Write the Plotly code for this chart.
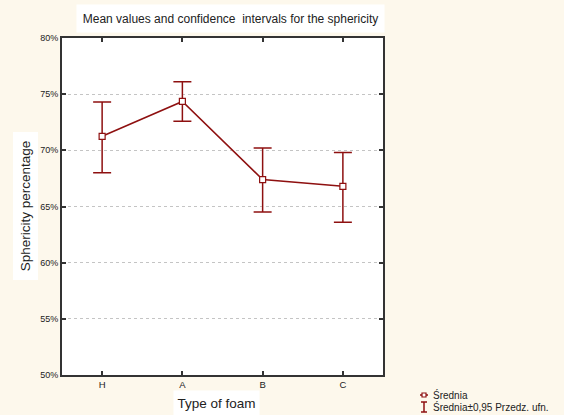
import plotly.graph_objects as go

# Foam types and sphericity statistics (percent)
foam_types = ["H", "A", "B", "C"]
mean_vals = [71.25, 74.35, 67.4, 66.8]
ci_lower = [68.0, 72.6, 64.5, 63.6]
ci_upper = [74.3, 76.1, 70.2, 69.8]
y_ticks = [50, 55, 60, 65, 70, 75, 80]

RED = "#8e1010"
FONT = "Liberation Sans, Arial, sans-serif"

err_plus = [u - m for u, m in zip(ci_upper, mean_vals)]
err_minus = [m - l for m, l in zip(mean_vals, ci_lower)]

fig = go.Figure()
fig.add_trace(go.Scatter(
    x=foam_types, y=mean_vals, mode="lines+markers",
    line=dict(color=RED, width=1.5),
    marker=dict(symbol="square", size=6, color="white", line=dict(color=RED, width=1.2)),
    error_y=dict(type="data", symmetric=False, array=err_plus, arrayminus=err_minus,
                 color=RED, thickness=1.5, width=9),
    showlegend=False,
))

fig.update_layout(
    width=564, height=415,
    margin=dict(l=62, r=181, t=38, b=40),
    paper_bgcolor="#fdf8ec",
    plot_bgcolor="white",
    font=dict(family=FONT, color="#222"),
    xaxis=dict(
        range=[-0.5, 3.5], type="category",
        showline=True, linecolor="#333", linewidth=2, mirror="ticks",
        ticks="inside", ticklen=4, tickcolor="#333", tickwidth=1.5,
        showgrid=False, tickfont=dict(size=9.5, family=FONT),
    ),
    yaxis=dict(
        range=[50, 80], tickvals=y_ticks, ticktext=[f"{v}%" for v in y_ticks],
        showline=True, linecolor="#333", linewidth=2, mirror="ticks",
        ticks="inside", ticklen=4, tickcolor="#333", tickwidth=1.5,
        showgrid=True, gridcolor="#c4c4c4", griddash="dot", gridwidth=1,
        zeroline=False, tickfont=dict(size=9, family=FONT), ticklabelstandoff=0,
    ),
    annotations=[
        dict(text="Mean values and confidence  intervals for the sphericity",
             xref="paper", yref="paper", x=0.045, y=1.0, xanchor="left", yanchor="bottom",
             yshift=5, showarrow=False, bgcolor="white", width=305, height=25,
             font=dict(size=12, family=FONT, color="#222")),
        dict(text="Sphericity percentage", xref="paper", yref="paper",
             x=0, y=0.5, xshift=-37, xanchor="center", yanchor="middle",
             textangle=-90, showarrow=False, bgcolor="white", width=145, height=22,
             font=dict(size=13.5, family=FONT, color="#222")),
        dict(text="Type of foam", xref="paper", yref="paper",
             x=0.48, y=0, yshift=-28, xanchor="center", yanchor="middle",
             showarrow=False, bgcolor="white", width=83, height=22,
             font=dict(size=13.5, family=FONT, color="#222")),
        dict(text="Średnia", xref="paper", yref="paper", x=1.15, y=0, yshift=-20,
             xanchor="left", yanchor="middle", showarrow=False,
             font=dict(size=10, family=FONT, color="#222")),
        dict(text="Średnia±0,95 Przedz. ufn.", xref="paper", yref="paper", x=1.15, y=0,
             yshift=-32, xanchor="left", yanchor="middle", showarrow=False,
             font=dict(size=10, family=FONT, color="#222")),
    ],
)

# Hand-drawn legend keys (paper pixels converted to paper fractions)
pw, ph = 564 - 62 - 181, 415 - 38 - 40
def px(x):
    return (x - 62) / pw
def py(y):
    return (375 - y) / ph

shapes = [
    dict(type="line", x0=px(420), x1=px(428), y0=py(395), y1=py(395), line=dict(color=RED, width=1.5)),
    dict(type="rect", x0=px(422), x1=px(426), y0=py(393), y1=py(397),
         line=dict(color=RED, width=1.2), fillcolor="white"),
    dict(type="line", x0=px(424), x1=px(424), y0=py(402), y1=py(412), line=dict(color=RED, width=1.5)),
    dict(type="line", x0=px(421), x1=px(427), y0=py(402), y1=py(402), line=dict(color=RED, width=1.5)),
    dict(type="line", x0=px(421), x1=px(427), y0=py(412), y1=py(412), line=dict(color=RED, width=1.5)),
]
for s in shapes:
    s.update(xref="paper", yref="paper")
fig.update_layout(shapes=shapes)

fig.write_html("out.html")
